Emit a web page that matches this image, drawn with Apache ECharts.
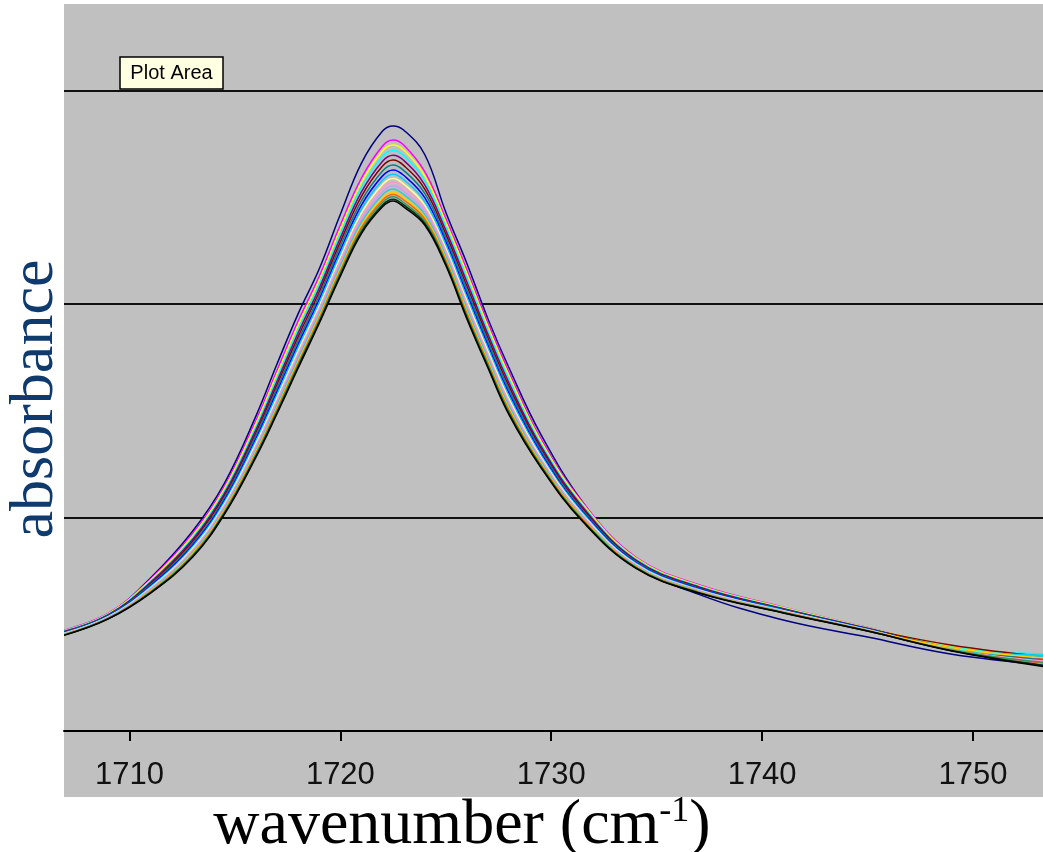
<!DOCTYPE html>
<html>
<head>
<meta charset="utf-8">
<title>absorbance</title>
<script src="https://cdn.jsdelivr.net/npm/echarts@6/dist/echarts.min.js"></script>
<style>
  html, body { margin: 0; padding: 0; background: #fff; }
  #chart { width: 1043px; height: 852px; }
</style>
</head>
<body>
<div id="chart"></div>
<script>
var wavenumbers = [1706.9, 1709, 1711, 1713, 1714.5, 1716, 1717, 1718, 1719, 1720, 1721, 1722, 1722.5, 1723, 1724, 1725, 1726, 1727, 1728, 1729.5, 1731.5, 1734, 1737, 1741, 1745, 1749, 1753.5];
var xTicks = [1710, 1720, 1730, 1740, 1750];

// one absorbance array per spectrum, highest peak first
var navy = [0.468, 0.548, 0.717, 0.937, 1.16, 1.476, 1.72, 1.955, 2.165, 2.42, 2.66, 2.81, 2.834, 2.815, 2.70, 2.43, 2.19, 1.93, 1.70, 1.39, 1.07, 0.78, 0.64, 0.52, 0.44, 0.36, 0.31];
var magenta = [0.472, 0.552, 0.712, 0.925, 1.145, 1.455, 1.69, 1.92, 2.13, 2.37, 2.59, 2.74, 2.768, 2.745, 2.62, 2.40, 2.16, 1.91, 1.68, 1.37, 1.07, 0.815, 0.685, 0.58, 0.485, 0.392, 0.328];
var yellow = [0.470, 0.550, 0.707, 0.916, 1.135, 1.441, 1.674, 1.902, 2.112, 2.351, 2.569, 2.717, 2.745, 2.722, 2.600, 2.382, 2.142, 1.893, 1.664, 1.359, 1.063, 0.811, 0.682, 0.578, 0.484, 0.398, 0.352];
var cyan = [0.468, 0.547, 0.701, 0.906, 1.123, 1.426, 1.656, 1.883, 2.093, 2.329, 2.546, 2.692, 2.719, 2.696, 2.578, 2.363, 2.121, 1.874, 1.646, 1.347, 1.055, 0.806, 0.678, 0.575, 0.482, 0.392, 0.360];
var purple = [0.466, 0.545, 0.696, 0.898, 1.113, 1.412, 1.639, 1.865, 2.075, 2.310, 2.525, 2.669, 2.697, 2.673, 2.558, 2.345, 2.103, 1.858, 1.630, 1.336, 1.048, 0.802, 0.675, 0.573, 0.481, 0.388, 0.338];
var maroon = [0.464, 0.543, 0.690, 0.889, 1.102, 1.398, 1.623, 1.847, 2.057, 2.291, 2.504, 2.646, 2.674, 2.649, 2.538, 2.327, 2.084, 1.841, 1.614, 1.325, 1.040, 0.798, 0.672, 0.571, 0.479, 0.402, 0.348];
var teal = [0.462, 0.541, 0.685, 0.880, 1.092, 1.385, 1.607, 1.830, 2.040, 2.272, 2.483, 2.623, 2.651, 2.626, 2.518, 2.310, 2.066, 1.824, 1.598, 1.315, 1.033, 0.794, 0.669, 0.569, 0.478, 0.386, 0.330];
var blue = [0.460, 0.539, 0.680, 0.871, 1.081, 1.371, 1.591, 1.812, 2.022, 2.252, 2.463, 2.600, 2.628, 2.603, 2.498, 2.292, 2.047, 1.807, 1.582, 1.304, 1.026, 0.790, 0.666, 0.567, 0.477, 0.383, 0.318];
var skyBlue = [0.459, 0.537, 0.675, 0.863, 1.072, 1.359, 1.576, 1.797, 2.007, 2.236, 2.444, 2.580, 2.608, 2.583, 2.480, 2.277, 2.031, 1.792, 1.568, 1.294, 1.020, 0.786, 0.663, 0.565, 0.476, 0.384, 0.355];
var lightYellow = [0.457, 0.535, 0.670, 0.856, 1.063, 1.347, 1.562, 1.781, 1.991, 2.219, 2.426, 2.560, 2.588, 2.562, 2.463, 2.261, 2.015, 1.778, 1.554, 1.285, 1.013, 0.782, 0.660, 0.563, 0.474, 0.380, 0.322];
var rose = [0.455, 0.533, 0.667, 0.849, 1.055, 1.336, 1.550, 1.768, 1.978, 2.204, 2.411, 2.543, 2.571, 2.545, 2.448, 2.248, 2.001, 1.765, 1.542, 1.277, 1.008, 0.779, 0.658, 0.561, 0.473, 0.381, 0.326];
var lavender = [0.454, 0.532, 0.663, 0.843, 1.048, 1.326, 1.538, 1.755, 1.965, 2.190, 2.395, 2.526, 2.554, 2.528, 2.433, 2.235, 1.988, 1.753, 1.530, 1.269, 1.003, 0.776, 0.656, 0.560, 0.472, 0.378, 0.312];
var aqua = [0.453, 0.530, 0.659, 0.837, 1.041, 1.317, 1.528, 1.744, 1.954, 2.178, 2.382, 2.512, 2.539, 2.513, 2.420, 2.224, 1.976, 1.742, 1.520, 1.262, 0.998, 0.773, 0.654, 0.558, 0.471, 0.382, 0.350];
var gold = [0.452, 0.529, 0.656, 0.832, 1.035, 1.309, 1.517, 1.733, 1.943, 2.166, 2.369, 2.498, 2.525, 2.499, 2.408, 2.213, 1.965, 1.732, 1.510, 1.255, 0.994, 0.771, 0.652, 0.557, 0.471, 0.390, 0.340];
var orange = [0.451, 0.528, 0.653, 0.827, 1.029, 1.302, 1.509, 1.724, 1.934, 2.156, 2.359, 2.486, 2.513, 2.487, 2.398, 2.204, 1.955, 1.723, 1.502, 1.250, 0.990, 0.769, 0.650, 0.556, 0.470, 0.379, 0.316];
var seaGreen = [0.450, 0.527, 0.651, 0.823, 1.024, 1.295, 1.501, 1.715, 1.925, 2.147, 2.348, 2.475, 2.502, 2.475, 2.388, 2.195, 1.946, 1.715, 1.494, 1.244, 0.986, 0.767, 0.649, 0.555, 0.469, 0.377, 0.320];
var darkGreen = [0.449, 0.526, 0.648, 0.818, 1.019, 1.288, 1.493, 1.707, 1.917, 2.137, 2.338, 2.464, 2.491, 2.464, 2.378, 2.187, 1.937, 1.706, 1.486, 1.239, 0.983, 0.765, 0.647, 0.554, 0.468, 0.376, 0.306];
var black = [0.448, 0.525, 0.646, 0.815, 1.015, 1.283, 1.487, 1.70, 1.91, 2.13, 2.33, 2.455, 2.482, 2.455, 2.37, 2.18, 1.93, 1.70, 1.48, 1.235, 0.98, 0.763, 0.646, 0.553, 0.468, 0.375, 0.300];

var spectra = [
	['navy', '#000080', navy],
	['magenta', '#ff00ff', magenta],
	['yellow', '#ffff00', yellow],
	['cyan', '#00ffff', cyan],
	['purple', '#800080', purple],
	['maroon', '#800000', maroon],
	['teal', '#008080', teal],
	['blue', '#0000ff', blue],
	['skyBlue', '#00ccff', skyBlue],
	['lightYellow', '#ffff99', lightYellow],
	['rose', '#ff99cc', rose],
	['lavender', '#cc99ff', lavender],
	['aqua', '#33cccc', aqua],
	['gold', '#ffcc00', gold],
	['orange', '#ff6600', orange],
	['seaGreen', '#339966', seaGreen],
	['darkGreen', '#003300', darkGreen],
	['black', '#000000', black]
];

var titleColor = '#0e3a6e';

var myChart = echarts.init(document.getElementById('chart'));

var series = spectra.map(function (s) {
	return {
		name: s[0],
		type: 'line',
		data: wavenumbers.map(function (w, i) { return [w, s[2][i]]; }),
		showSymbol: false,
		smooth: 0.4,
		lineStyle: { color: s[1], width: 1.5 },
		itemStyle: { color: s[1] },
		emphasis: { disabled: true }
	};
});

myChart.setOption({
	animation: false,
	backgroundColor: '#ffffff',
	grid: { left: 64, right: 0, top: 4, bottom: 121 },
	xAxis: {
		type: 'value',
		min: 1706.894,
		max: 1753.32,
		axisLine: { lineStyle: { color: '#000', width: 2 } },
		axisTick: { customValues: xTicks, length: 10, lineStyle: { color: '#000', width: 2 } },
		axisLabel: {
			customValues: xTicks,
			margin: 29,
			fontSize: 31,
			fontFamily: 'Liberation Sans',
			color: '#111',
			// plain numbers, no thousands separator
			formatter: function (v) { return String(v); }
		},
		splitLine: { show: false }
	},
	yAxis: {
		type: 'value',
		min: 0,
		max: 3.405,
		interval: 1,
		axisLine: { show: false },
		axisTick: { show: false },
		axisLabel: { show: false },
		splitLine: { showMaxLine: false, lineStyle: { color: '#111', width: 2 } }
	},
	graphic: [
		// grey plot background, runs below the axis to hold the labels
		{ type: 'rect', z: -10, silent: true, shape: { x: 64, y: 4, width: 979, height: 793 }, style: { fill: '#c0c0c0' } },
		{ type: 'rect', z: 100, shape: { x: 120, y: 57, width: 103, height: 32 }, style: { fill: '#ffffe1', stroke: '#000', lineWidth: 1.5 } },
		{ type: 'text', z: 101, x: 171.5, y: 73, style: { text: 'Plot Area', font: '20px "Liberation Sans"', fill: '#000', textAlign: 'center', textVerticalAlign: 'middle' } },
		{ type: 'text', x: 36, y: 399, rotation: Math.PI / 2, style: { text: 'absorbance', font: '62px "Liberation Serif"', fill: titleColor, textAlign: 'center', textVerticalAlign: 'middle' } },
		{
			type: 'text', x: 462, y: 826,
			style: {
				text: '{a|wavenumber (cm}{s|-1}{a|)}',
				textAlign: 'center',
				textVerticalAlign: 'middle',
				rich: {
					a: { fontFamily: 'Liberation Serif', fontSize: 64, color: titleColor },
					s: { fontFamily: 'Liberation Serif', fontSize: 36, color: titleColor, verticalAlign: 'top' }
				}
			}
		}
	],
	series: series
});
</script>
</body>
</html>
